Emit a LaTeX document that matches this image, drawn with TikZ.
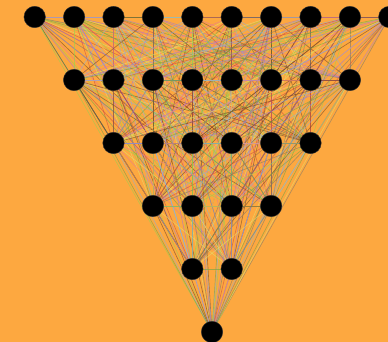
\documentclass[tikz,border=0pt]{standalone}
\definecolor{bgorange}{RGB}{253,168,64}
\definecolor{c1}{RGB}{150,210,80}
\definecolor{c2}{RGB}{205,75,65}
\definecolor{c3}{RGB}{160,120,210}
\definecolor{c4}{RGB}{225,225,110}
\definecolor{c5}{RGB}{125,120,105}
\definecolor{c6}{RGB}{115,70,40}
\definecolor{c7}{RGB}{110,165,70}
\definecolor{c8}{RGB}{230,120,150}
\definecolor{c9}{RGB}{140,175,215}
\pgfdeclarelayer{bg}
\pgfsetlayers{bg,main}
\tikzset{
  neuron/.style={circle, fill=black, draw=black!80, line width=0.4pt, minimum size=21.5pt, inner sep=0pt},
  ec1/.style={draw=c1, opacity=0.6, line width=0.65pt},
  ec2/.style={draw=c2, opacity=0.6, line width=0.65pt},
  ec3/.style={draw=c3, opacity=0.6, line width=0.65pt},
  ec4/.style={draw=c4, opacity=0.6, line width=0.65pt},
  ec5/.style={draw=c5, opacity=0.6, line width=0.65pt},
  ec6/.style={draw=c6, opacity=0.6, line width=0.65pt},
  ec7/.style={draw=c7, opacity=0.6, line width=0.65pt},
  ec8/.style={draw=c8, opacity=0.6, line width=0.65pt},
  ec9/.style={draw=c9, opacity=0.6, line width=0.65pt}
}
\begin{document}
\begin{tikzpicture}[x=1pt,y=-1pt]
\begin{pgfonlayer}{bg}
\fill[bgorange] (0,0) rectangle (388,342);
\end{pgfonlayer}
\useasboundingbox (0,0) rectangle (388,342);
% nodes
\foreach \r in {0,...,4}{
  \pgfmathtruncatemacro\nn{9-2*\r}
  \foreach \k in {0,...,\nn}{
    \pgfmathtruncatemacro\idx{\r*10-\r*(\r-1)+\k+1}
    \node[neuron] (v\idx) at ({34.7+39.4*(\r+\k)},{17+63*\r}) {};
  }
}
\node[neuron] (v31) at (212,332) {};
% edges
\pgfmathsetseed{11}
\begin{pgfonlayer}{bg}
\foreach \i in {1,...,30}{
  \pgfmathtruncatemacro\s{\i+1}
  \foreach \j in {\s,...,31}{
    \pgfmathrandominteger{\cc}{1}{9}
    \draw[ec\cc] (v\i.center) -- (v\j.center);
  }
}
\end{pgfonlayer}
\end{tikzpicture}
\end{document}
